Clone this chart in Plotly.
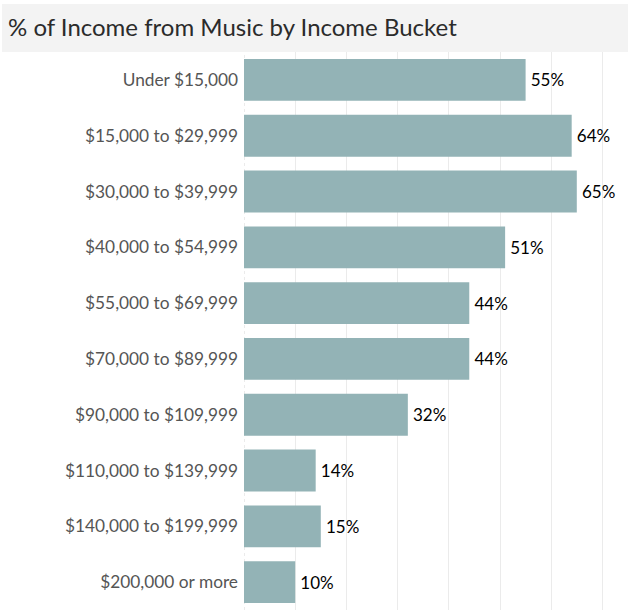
import plotly.graph_objects as go

# Income buckets (top to bottom) and share of income earned from music (%)
buckets = [
    "Under $15,000",
    "$15,000 to $29,999",
    "$30,000 to $39,999",
    "$40,000 to $54,999",
    "$55,000 to $69,999",
    "$70,000 to $89,999",
    "$90,000 to $109,999",
    "$110,000 to $139,999",
    "$140,000 to $199,999",
    "$200,000 or more",
]
pct_from_music = [55, 64, 65, 51, 44, 44, 32, 14, 15, 10]

title_text = "% of Income from Music by Income Bucket"

W, H = 629, 614
M_L, M_R, M_T, M_B = 244, 1, 52, 4
plot_w = W - M_L - M_R
plot_h = H - M_T - M_B


def px_x(x):
    return (x - M_L) / plot_w


def px_y(y):
    return 1 + (M_T - y) / plot_h


fig = go.Figure(
    go.Bar(
        x=pct_from_music,
        y=buckets,
        orientation="h",
        marker=dict(color="#93b3b6", line=dict(width=0)),
        width=0.75,
        # thin space keeps the value label a little clear of the bar end
        text=[f"\u2009{v}%" for v in pct_from_music],
        textposition="outside",
        textfont=dict(family="Lato", size=17, color="#000000"),
        cliponaxis=False,
        hoverinfo="skip",
    )
)

fig.update_layout(
    width=W,
    height=H,
    margin=dict(l=M_L, r=M_R, t=M_T, b=M_B, pad=0),
    paper_bgcolor="white",
    plot_bgcolor="white",
    showlegend=False,
    xaxis=dict(
        range=[0, 75],
        dtick=10,
        showgrid=True,
        gridcolor="#ebebeb",
        gridwidth=1,
        zeroline=False,
        showticklabels=False,
        showline=False,
        fixedrange=True,
    ),
    yaxis=dict(
        categoryorder="array",
        categoryarray=buckets[::-1],
        showgrid=False,
        zeroline=False,
        showline=False,
        ticks="",
        ticklabelstandoff=5,
        tickfont=dict(family="Lato", size=17.3, color="#555555"),
        fixedrange=True,
    ),
    shapes=[
        # title band
        dict(
            type="rect",
            xref="paper",
            yref="paper",
            x0=px_x(2),
            x1=px_x(628),
            y0=px_y(52),
            y1=px_y(4),
            fillcolor="#f3f3f3",
            line=dict(width=0),
            layer="below",
        ),
        # faint dotted baseline at zero
        dict(
            type="line",
            xref="x",
            yref="paper",
            x0=0,
            x1=0,
            y0=0,
            y1=1,
            line=dict(color="#d8d8d8", width=1, dash="dot"),
            layer="below",
        ),
    ],
    annotations=[
        dict(
            text=title_text,
            xref="paper",
            yref="paper",
            x=px_x(6),
            y=px_y(27),
            xanchor="left",
            yanchor="middle",
            showarrow=False,
            font=dict(family="Lato", size=24, color="#2b2b2b"),
        )
    ],
)

fig.write_html("out.html")
